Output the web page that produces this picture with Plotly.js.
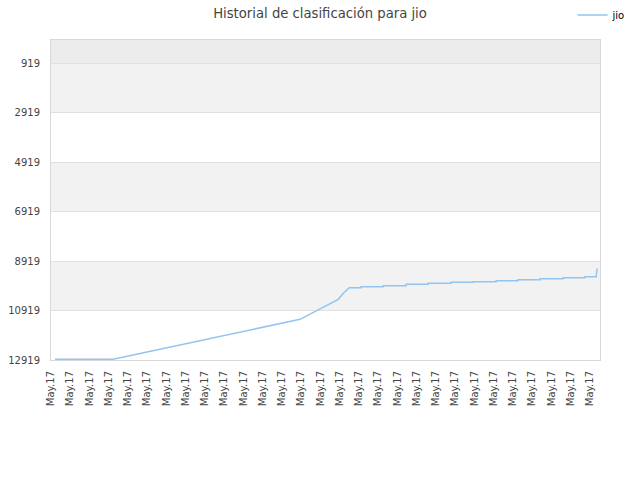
<!DOCTYPE html>
<html>
<head>
<meta charset="utf-8">
<script src="https://cdn.plot.ly/plotly-3.0.1.min.js"></script>
<style>html,body{margin:0;padding:0;background:#fff}#chart{width:640px;height:480px}</style>
</head>
<body>
<div id="chart"></div>
<script>
// position along the time axis (tick units) and rank
const days = [0.21, 3.22, 12.94, 13.72, 14.33, 14.93, 15.19, 15.50,
  16.11, 16.11, 17.26, 17.26, 18.45, 18.45, 19.59, 19.59, 20.79, 20.79,
  21.93, 21.93, 23.13, 23.13, 24.27, 24.27, 25.42, 25.42, 26.61, 26.61,
  27.75, 27.75, 28.33, 28.38];
const rank = [12891, 12891, 11273, 10965, 10694, 10464, 10221, 9994,
  9994, 9954, 9954, 9913, 9913, 9857, 9857, 9817, 9817, 9776,
  9776, 9752, 9752, 9711, 9711, 9671, 9671, 9630, 9630, 9590,
  9590, 9549, 9549, 9210];
const tickPos = Array.from({length: 29}, (_, i) => i);
const tickText = tickPos.map(() => 'May.17');
const yTicks = [919, 2919, 4919, 6919, 8919, 10919, 12919];
const yTickText = yTicks.map(String);
const seriesName = 'jio';
const titleText = 'Historial de clasificación para jio';

const bands = [[-24, 919, '#ececec'], [919, 2919, '#f2f2f2'], [4919, 6919, '#f2f2f2'], [8919, 10919, '#f2f2f2']];
const shapes = bands.map(b => ({type: 'rect', xref: 'paper', yref: 'y', x0: 0, x1: 1, y0: b[0], y1: b[1],
  fillcolor: b[2], line: {width: 0}, layer: 'below'}));

const font = 'DejaVu Sans, sans-serif';
Plotly.newPlot('chart', [{
  x: days, y: rank, type: 'scatter', mode: 'lines', name: seriesName,
  line: {color: '#94c4f0', width: 1.5}
}], {
  width: 640, height: 480,
  margin: {l: 51, r: 40, t: 40, b: 120, autoexpand: false},
  paper_bgcolor: '#fff', plot_bgcolor: '#fff',
  font: {family: font, size: 10, color: '#444'},
  title: {text: titleText, x: 0.5, xanchor: 'center', y: 0.973, yanchor: 'middle', font: {family: font, size: 13.2, color: '#444'}},
  showlegend: true,
  legend: {x: 0.95, xanchor: 'left', y: 1.078, yanchor: 'middle', font: {family: font, size: 10, color: '#000'}, bgcolor: 'rgba(0,0,0,0)', itemwidth: 30},
  xaxis: {range: [0, 28.53], tickmode: 'array', tickvals: tickPos, ticktext: tickText, tickangle: -90,
    showgrid: false, zeroline: false, showline: true, linecolor: '#d8d8d8', mirror: true,
    ticks: 'outside', ticklen: 6, tickcolor: 'rgba(0,0,0,0)', tickfont: {size: 10, color: '#444'}},
  yaxis: {range: [12919, -24], tickmode: 'array', tickvals: yTicks, ticktext: yTickText, showgrid: true, gridcolor: '#e0e0e0',
    zeroline: false, showline: true, linecolor: '#d8d8d8', mirror: true,
    ticks: 'outside', ticklen: 8, tickcolor: 'rgba(0,0,0,0)', tickfont: {size: 10, color: '#444'}},
  shapes: shapes
}, {displayModeBar: false, staticPlot: true});
</script>
</body>
</html>
